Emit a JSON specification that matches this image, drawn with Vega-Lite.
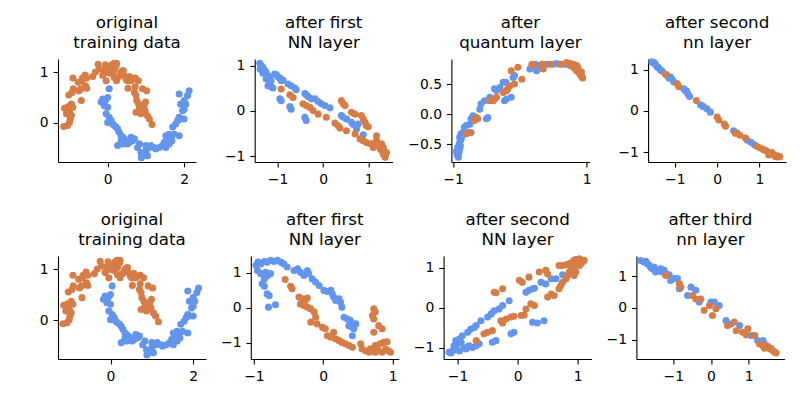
{
"$schema": "https://vega.github.io/schema/vega-lite/v6.json",
"padding": {"left": 39, "top": 14, "right": 0, "bottom": 0},
"config": {
 "view": {"stroke": null},
 "axis": {"grid": false, "domainColor": "black", "tickColor": "black", "labelColor": "black", "labelFont": "DejaVu Sans", "labelFontSize": 13.9, "tickSize": 4.9, "domainWidth": 1.1, "tickWidth": 1.1, "title": null, "labelFlush": false, "labelOverlap": false, "labelBound": false},
 "axisX": {"labelPadding": 5.5},
 "axisY": {"labelPadding": 4.9},
 "title": {"font": "DejaVu Sans", "fontSize": 16.7, "fontWeight": "normal", "color": "black", "lineHeight": 20, "baseline": "alphabetic", "offset": 7, "frame": "group", "anchor": "middle"},
 "circle": {"size": 50, "opacity": 1}
},
"datasets": {
 "orig": [
  {"x":0.04,"y":0.67,"c":"b"},{"x":0.0,"y":0.5,"c":"b"},{"x":-0.13,"y":0.47,"c":"b"},{"x":-0.06,"y":0.44,"c":"b"},{"x":-0.17,"y":0.41,"c":"b"},{"x":-0.09,"y":0.34,"c":"b"},{"x":0.0,"y":0.31,"c":"b"},{"x":-0.04,"y":0.18,"c":"b"},{"x":0.04,"y":0.11,"c":"b"},{"x":0.0,"y":0.01,"c":"b"},{"x":0.09,"y":0.05,"c":"b"},{"x":0.13,"y":-0.02,"c":"b"},{"x":0.17,"y":-0.05,"c":"b"},{"x":0.22,"y":-0.08,"c":"b"},{"x":0.26,"y":-0.12,"c":"b"},{"x":0.3,"y":-0.18,"c":"b"},{"x":0.35,"y":-0.25,"c":"b"},{"x":0.39,"y":-0.28,"c":"b"},{"x":0.43,"y":-0.31,"c":"b"},{"x":0.48,"y":-0.35,"c":"b"},{"x":0.35,"y":-0.35,"c":"b"},{"x":0.26,"y":-0.44,"c":"b"},{"x":0.39,"y":-0.41,"c":"b"},{"x":0.52,"y":-0.41,"c":"b"},{"x":0.57,"y":-0.38,"c":"b"},{"x":0.61,"y":-0.28,"c":"b"},{"x":0.65,"y":-0.35,"c":"b"},{"x":0.7,"y":-0.31,"c":"b"},{"x":0.78,"y":-0.48,"c":"b"},{"x":0.83,"y":-0.41,"c":"b"},{"x":0.87,"y":-0.58,"c":"b"},{"x":0.91,"y":-0.64,"c":"b"},{"x":1.0,"y":-0.54,"c":"b"},{"x":1.04,"y":-0.64,"c":"b"},{"x":1.0,"y":-0.44,"c":"b"},{"x":1.09,"y":-0.48,"c":"b"},{"x":1.13,"y":-0.44,"c":"b"},{"x":1.22,"y":-0.48,"c":"b"},{"x":1.26,"y":-0.51,"c":"b"},{"x":1.35,"y":-0.48,"c":"b"},{"x":1.43,"y":-0.44,"c":"b"},{"x":1.48,"y":-0.38,"c":"b"},{"x":1.52,"y":-0.25,"c":"b"},{"x":1.57,"y":-0.28,"c":"b"},{"x":1.61,"y":-0.22,"c":"b"},{"x":1.65,"y":-0.31,"c":"b"},{"x":1.7,"y":-0.08,"c":"b"},{"x":1.74,"y":-0.22,"c":"b"},{"x":1.78,"y":-0.02,"c":"b"},{"x":1.83,"y":0.05,"c":"b"},{"x":1.87,"y":0.11,"c":"b"},{"x":1.91,"y":0.08,"c":"b"},{"x":1.87,"y":-0.25,"c":"b"},{"x":1.96,"y":0.24,"c":"b"},{"x":2.0,"y":0.44,"c":"b"},{"x":2.04,"y":0.37,"c":"b"},{"x":2.0,"y":0.27,"c":"b"},{"x":2.09,"y":0.54,"c":"b"},{"x":2.13,"y":0.63,"c":"b"},{"x":1.91,"y":0.37,"c":"b"},{"x":1.87,"y":0.57,"c":"b"},{"x":2.0,"y":0.08,"c":"b"},{"x":1.68,"y":-0.35,"c":"b"},{"x":1.52,"y":-0.48,"c":"b"},{"x":1.61,"y":-0.41,"c":"b"},{"x":0.88,"y":-0.68,"c":"b"},
  {"x":-1.15,"y":-0.07,"c":"o"},{"x":-1.05,"y":-0.05,"c":"o"},{"x":-1.0,"y":0.01,"c":"o"},{"x":-0.98,"y":0.08,"c":"o"},{"x":-1.08,"y":0.18,"c":"o"},{"x":-1.13,"y":0.29,"c":"o"},{"x":-1.04,"y":0.32,"c":"o"},{"x":-0.95,"y":0.37,"c":"o"},{"x":-0.91,"y":0.31,"c":"o"},{"x":-1.0,"y":0.24,"c":"o"},{"x":-1.02,"y":0.18,"c":"o"},{"x":-0.95,"y":0.15,"c":"o"},{"x":-1.02,"y":0.55,"c":"o"},{"x":-0.93,"y":0.6,"c":"o"},{"x":-0.9,"y":0.67,"c":"o"},{"x":-0.75,"y":0.63,"c":"o"},{"x":-0.7,"y":0.67,"c":"o"},{"x":-0.77,"y":0.8,"c":"o"},{"x":-0.68,"y":0.83,"c":"o"},{"x":-0.66,"y":0.88,"c":"o"},{"x":-0.59,"y":0.94,"c":"o"},{"x":-0.55,"y":0.88,"c":"o"},{"x":-0.58,"y":0.73,"c":"o"},{"x":-0.55,"y":0.68,"c":"o"},{"x":-0.69,"y":0.44,"c":"o"},{"x":-0.91,"y":0.88,"c":"o"},{"x":-0.39,"y":0.91,"c":"o"},{"x":-0.32,"y":1.0,"c":"o"},{"x":-0.25,"y":1.15,"c":"o"},{"x":-0.22,"y":1.06,"c":"o"},{"x":-0.11,"y":1.03,"c":"o"},{"x":-0.06,"y":1.14,"c":"o"},{"x":-0.03,"y":0.99,"c":"o"},{"x":0.0,"y":1.06,"c":"o"},{"x":0.04,"y":1.09,"c":"o"},{"x":0.11,"y":1.14,"c":"o"},{"x":0.16,"y":1.17,"c":"o"},{"x":0.22,"y":1.12,"c":"o"},{"x":0.23,"y":1.17,"c":"o"},{"x":0.17,"y":1.03,"c":"o"},{"x":0.09,"y":0.97,"c":"o"},{"x":-0.04,"y":0.83,"c":"o"},{"x":-0.13,"y":0.93,"c":"o"},{"x":0.17,"y":0.89,"c":"o"},{"x":0.23,"y":0.83,"c":"o"},{"x":0.29,"y":0.91,"c":"o"},{"x":0.35,"y":1.0,"c":"o"},{"x":0.41,"y":1.03,"c":"o"},{"x":0.43,"y":0.93,"c":"o"},{"x":0.48,"y":0.86,"c":"o"},{"x":0.52,"y":0.83,"c":"o"},{"x":0.57,"y":0.91,"c":"o"},{"x":0.61,"y":0.83,"c":"o"},{"x":0.65,"y":0.86,"c":"o"},{"x":0.53,"y":0.68,"c":"o"},{"x":0.72,"y":0.88,"c":"o"},{"x":0.8,"y":0.83,"c":"o"},{"x":0.72,"y":0.71,"c":"o"},{"x":0.7,"y":0.6,"c":"o"},{"x":0.74,"y":0.54,"c":"o"},{"x":0.76,"y":0.44,"c":"o"},{"x":0.81,"y":0.37,"c":"o"},{"x":0.83,"y":0.27,"c":"o"},{"x":0.87,"y":0.24,"c":"o"},{"x":0.91,"y":0.31,"c":"o"},{"x":0.95,"y":0.34,"c":"o"},{"x":0.99,"y":0.41,"c":"o"},{"x":0.91,"y":0.67,"c":"o"},{"x":1.02,"y":0.63,"c":"o"},{"x":0.74,"y":0.21,"c":"o"},{"x":1.04,"y":0.14,"c":"o"},{"x":1.09,"y":0.08,"c":"o"},{"x":1.16,"y":-0.03,"c":"o"},{"x":0.87,"y":0.18,"c":"o"},{"x":0.98,"y":0.24,"c":"o"}
 ],
 "a1": [
  {"x":-1.39,"y":1.06,"c":"b"},{"x":-1.36,"y":1.01,"c":"b"},{"x":-1.32,"y":0.97,"c":"b"},{"x":-1.38,"y":0.93,"c":"b"},{"x":-1.28,"y":0.9,"c":"b"},{"x":-1.25,"y":0.86,"c":"b"},{"x":-1.32,"y":0.84,"c":"b"},{"x":-1.21,"y":0.79,"c":"b"},{"x":-1.17,"y":0.75,"c":"b"},{"x":-1.25,"y":0.71,"c":"b"},{"x":-1.14,"y":0.67,"c":"b"},{"x":-1.17,"y":0.6,"c":"b"},{"x":-1.21,"y":0.56,"c":"b"},{"x":-1.14,"y":0.54,"c":"b"},{"x":-1.1,"y":0.51,"c":"b"},{"x":-1.06,"y":0.82,"c":"b"},{"x":-1.03,"y":0.81,"c":"b"},{"x":-0.99,"y":0.76,"c":"b"},{"x":-0.95,"y":0.73,"c":"b"},{"x":-0.92,"y":0.67,"c":"b"},{"x":-0.88,"y":0.69,"c":"b"},{"x":-0.95,"y":0.27,"c":"b"},{"x":-0.92,"y":0.23,"c":"b"},{"x":-0.77,"y":0.6,"c":"b"},{"x":-0.7,"y":0.56,"c":"b"},{"x":-0.62,"y":0.51,"c":"b"},{"x":-0.59,"y":0.47,"c":"b"},{"x":-0.73,"y":0.1,"c":"b"},{"x":-0.7,"y":0.04,"c":"b"},{"x":-0.4,"y":0.39,"c":"b"},{"x":-0.37,"y":0.36,"c":"b"},{"x":-0.33,"y":0.32,"c":"b"},{"x":-0.26,"y":0.27,"c":"b"},{"x":-0.18,"y":0.27,"c":"b"},{"x":-0.11,"y":0.21,"c":"b"},{"x":-0.04,"y":0.16,"c":"b"},{"x":0.04,"y":0.12,"c":"b"},{"x":0.15,"y":0.07,"c":"b"},{"x":-0.4,"y":-0.14,"c":"b"},{"x":-0.37,"y":-0.21,"c":"b"},{"x":0.4,"y":-0.1,"c":"b"},{"x":0.44,"y":-0.14,"c":"b"},{"x":0.51,"y":-0.18,"c":"b"},{"x":0.62,"y":-0.25,"c":"b"},{"x":0.66,"y":-0.3,"c":"b"},{"x":0.73,"y":-0.4,"c":"b"},{"x":0.88,"y":-0.53,"c":"b"},{"x":0.77,"y":-0.29,"c":"b"},
  {"x":-0.92,"y":0.49,"c":"o"},{"x":-0.73,"y":0.36,"c":"o"},{"x":-0.66,"y":0.3,"c":"o"},{"x":-0.44,"y":0.16,"c":"o"},{"x":-0.37,"y":0.12,"c":"o"},{"x":-0.29,"y":0.08,"c":"o"},{"x":-0.22,"y":0.01,"c":"o"},{"x":-0.11,"y":-0.07,"c":"o"},{"x":0.07,"y":-0.14,"c":"o"},{"x":0.4,"y":0.23,"c":"o"},{"x":0.44,"y":0.16,"c":"o"},{"x":0.48,"y":0.12,"c":"o"},{"x":0.26,"y":-0.27,"c":"o"},{"x":0.33,"y":-0.33,"c":"o"},{"x":0.37,"y":-0.38,"c":"o"},{"x":0.51,"y":-0.44,"c":"o"},{"x":0.62,"y":-0.03,"c":"o"},{"x":0.7,"y":-0.07,"c":"o"},{"x":0.84,"y":-0.1,"c":"o"},{"x":0.88,"y":-0.18,"c":"o"},{"x":0.95,"y":-0.33,"c":"o"},{"x":0.99,"y":-0.35,"c":"o"},{"x":0.7,"y":-0.51,"c":"o"},{"x":0.81,"y":-0.62,"c":"o"},{"x":0.88,"y":-0.66,"c":"o"},{"x":0.95,"y":-0.7,"c":"o"},{"x":1.03,"y":-0.73,"c":"o"},{"x":1.1,"y":-0.73,"c":"o"},{"x":1.17,"y":-0.55,"c":"o"},{"x":1.17,"y":-0.66,"c":"o"},{"x":1.21,"y":-0.77,"c":"o"},{"x":1.25,"y":-0.84,"c":"o"},{"x":1.28,"y":-0.88,"c":"o"},{"x":1.32,"y":-0.96,"c":"o"},{"x":1.36,"y":-0.99,"c":"o"},{"x":1.28,"y":-0.73,"c":"o"},{"x":1.32,"y":-0.81,"c":"o"},{"x":1.39,"y":-0.92,"c":"o"},{"x":1.36,"y":-1.03,"c":"o"},{"x":1.1,"y":-0.81,"c":"o"},{"x":0.92,"y":-0.25,"c":"o"}
 ],
 "q": [
  {"x":-0.93,"y":-0.69,"c":"b"},{"x":-0.91,"y":-0.64,"c":"b"},{"x":-0.94,"y":-0.67,"c":"b"},{"x":-0.9,"y":-0.58,"c":"b"},{"x":-0.93,"y":-0.56,"c":"b"},{"x":-0.91,"y":-0.5,"c":"b"},{"x":-0.89,"y":-0.44,"c":"b"},{"x":-0.9,"y":-0.39,"c":"b"},{"x":-0.88,"y":-0.33,"c":"b"},{"x":-0.85,"y":-0.31,"c":"b"},{"x":-0.88,"y":-0.42,"c":"b"},{"x":-0.89,"y":-0.53,"c":"b"},{"x":-0.86,"y":-0.36,"c":"b"},{"x":-0.83,"y":-0.22,"c":"b"},{"x":-0.8,"y":-0.19,"c":"b"},{"x":-0.75,"y":-0.17,"c":"b"},{"x":-0.73,"y":-0.31,"c":"b"},{"x":-0.73,"y":-0.08,"c":"b"},{"x":-0.7,"y":-0.03,"c":"b"},{"x":-0.6,"y":0.08,"c":"b"},{"x":-0.58,"y":0.17,"c":"b"},{"x":-0.53,"y":0.22,"c":"b"},{"x":-0.5,"y":-0.08,"c":"b"},{"x":-0.48,"y":-0.06,"c":"b"},{"x":-0.45,"y":0.28,"c":"b"},{"x":-0.38,"y":0.42,"c":"b"},{"x":-0.35,"y":0.39,"c":"b"},{"x":-0.3,"y":0.44,"c":"b"},{"x":-0.25,"y":0.53,"c":"b"},{"x":-0.21,"y":0.53,"c":"b"},{"x":-0.23,"y":0.22,"c":"b"},{"x":-0.2,"y":0.25,"c":"b"},{"x":-0.13,"y":0.28,"c":"b"},{"x":-0.1,"y":0.61,"c":"b"},{"x":-0.08,"y":0.64,"c":"b"},{"x":0.15,"y":0.75,"c":"b"},{"x":0.23,"y":0.83,"c":"b"},{"x":0.25,"y":0.72,"c":"b"},{"x":0.3,"y":0.81,"c":"b"},{"x":0.4,"y":0.83,"c":"b"},{"x":0.5,"y":0.83,"c":"b"},{"x":0.55,"y":0.84,"c":"b"},{"x":0.65,"y":0.83,"c":"b"},{"x":0.7,"y":0.83,"c":"b"},{"x":-0.92,"y":-0.72,"c":"b"},{"x":-0.95,"y":-0.62,"c":"b"},
  {"x":-0.8,"y":-0.33,"c":"o"},{"x":-0.75,"y":-0.31,"c":"o"},{"x":-0.68,"y":-0.11,"c":"o"},{"x":-0.65,"y":-0.06,"c":"o"},{"x":-0.63,"y":-0.08,"c":"o"},{"x":-0.45,"y":0.22,"c":"o"},{"x":-0.4,"y":0.22,"c":"o"},{"x":-0.38,"y":0.25,"c":"o"},{"x":-0.35,"y":0.28,"c":"o"},{"x":-0.25,"y":0.36,"c":"o"},{"x":-0.2,"y":0.39,"c":"o"},{"x":-0.18,"y":0.42,"c":"o"},{"x":-0.15,"y":0.47,"c":"o"},{"x":-0.08,"y":0.5,"c":"o"},{"x":-0.13,"y":0.72,"c":"o"},{"x":-0.03,"y":0.78,"c":"o"},{"x":0.03,"y":0.58,"c":"o"},{"x":0.18,"y":0.83,"c":"o"},{"x":0.2,"y":0.81,"c":"o"},{"x":0.33,"y":0.83,"c":"o"},{"x":0.35,"y":0.75,"c":"o"},{"x":0.45,"y":0.83,"c":"o"},{"x":0.6,"y":0.83,"c":"o"},{"x":0.7,"y":0.86,"c":"o"},{"x":0.75,"y":0.81,"c":"o"},{"x":0.78,"y":0.83,"c":"o"},{"x":0.8,"y":0.78,"c":"o"},{"x":0.83,"y":0.75,"c":"o"},{"x":0.85,"y":0.72,"c":"o"},{"x":0.88,"y":0.69,"c":"o"},{"x":0.9,"y":0.67,"c":"o"},{"x":0.93,"y":0.62,"c":"o"},{"x":0.94,"y":0.6,"c":"o"},{"x":0.91,"y":0.64,"c":"o"},{"x":0.85,"y":0.81,"c":"o"},{"x":0.8,"y":0.83,"c":"o"},{"x":0.75,"y":0.84,"c":"o"},{"x":0.87,"y":0.77,"c":"o"},{"x":0.92,"y":0.7,"c":"o"}
 ],
 "a2": [
  {"x":-1.54,"y":1.19,"c":"b"},{"x":-1.5,"y":1.16,"c":"b"},{"x":-1.46,"y":1.13,"c":"b"},{"x":-1.42,"y":1.08,"c":"b"},{"x":-1.38,"y":1.04,"c":"b"},{"x":-1.34,"y":1.0,"c":"b"},{"x":-1.3,"y":0.97,"c":"b"},{"x":-1.18,"y":0.86,"c":"b"},{"x":-1.14,"y":0.8,"c":"b"},{"x":-1.06,"y":0.76,"c":"b"},{"x":-1.02,"y":0.7,"c":"b"},{"x":-1.1,"y":0.82,"c":"b"},{"x":-1.48,"y":1.17,"c":"b"},{"x":-1.4,"y":1.06,"c":"b"},{"x":-0.79,"y":0.54,"c":"b"},{"x":-0.72,"y":0.48,"c":"b"},{"x":-0.69,"y":0.41,"c":"b"},{"x":-0.65,"y":0.35,"c":"b"},{"x":-0.76,"y":0.5,"c":"b"},{"x":-0.39,"y":0.15,"c":"b"},{"x":-0.33,"y":0.11,"c":"b"},{"x":-0.24,"y":0.05,"c":"b"},{"x":-0.16,"y":-0.03,"c":"b"},{"x":0.39,"y":-0.48,"c":"b"},{"x":0.47,"y":-0.54,"c":"b"},{"x":0.71,"y":-0.71,"c":"b"},{"x":0.8,"y":-0.76,"c":"b"},{"x":0.88,"y":-0.82,"c":"b"},
  {"x":-1.22,"y":0.89,"c":"o"},{"x":-0.91,"y":0.59,"c":"o"},{"x":-0.94,"y":0.66,"c":"o"},{"x":-0.49,"y":0.25,"c":"o"},{"x":0.0,"y":-0.15,"c":"o"},{"x":0.04,"y":-0.22,"c":"o"},{"x":0.17,"y":-0.32,"c":"o"},{"x":0.2,"y":-0.37,"c":"o"},{"x":0.43,"y":-0.54,"c":"o"},{"x":0.54,"y":-0.59,"c":"o"},{"x":0.67,"y":-0.66,"c":"o"},{"x":0.94,"y":-0.86,"c":"o"},{"x":1.02,"y":-0.9,"c":"o"},{"x":1.1,"y":-0.94,"c":"o"},{"x":1.18,"y":-0.98,"c":"o"},{"x":1.26,"y":-1.03,"c":"o"},{"x":1.34,"y":-1.07,"c":"o"},{"x":1.42,"y":-1.09,"c":"o"},{"x":1.48,"y":-1.11,"c":"o"},{"x":1.3,"y":-1.01,"c":"o"},{"x":1.38,"y":-1.11,"c":"o"},{"x":1.22,"y":-1.07,"c":"o"},{"x":1.14,"y":-0.96,"c":"o"},{"x":1.44,"y":-1.12,"c":"o"}
 ],
 "b1": [
  {"x":-0.97,"y":1.22,"c":"b"},{"x":-0.94,"y":1.31,"c":"b"},{"x":-0.9,"y":1.26,"c":"b"},{"x":-0.85,"y":1.33,"c":"b"},{"x":-0.81,"y":1.31,"c":"b"},{"x":-0.76,"y":1.36,"c":"b"},{"x":-0.71,"y":1.33,"c":"b"},{"x":-0.66,"y":1.36,"c":"b"},{"x":-0.61,"y":1.31,"c":"b"},{"x":-0.57,"y":1.26,"c":"b"},{"x":-0.52,"y":1.17,"c":"b"},{"x":-0.95,"y":1.07,"c":"b"},{"x":-0.9,"y":0.98,"c":"b"},{"x":-0.83,"y":1.02,"c":"b"},{"x":-0.81,"y":0.91,"c":"b"},{"x":-0.76,"y":0.98,"c":"b"},{"x":-0.85,"y":0.83,"c":"b"},{"x":-0.88,"y":0.69,"c":"b"},{"x":-0.85,"y":0.62,"c":"b"},{"x":-0.81,"y":0.4,"c":"b"},{"x":-0.78,"y":0.35,"c":"b"},{"x":-0.79,"y":0.02,"c":"b"},{"x":-0.69,"y":0.09,"c":"b"},{"x":-0.42,"y":1.07,"c":"b"},{"x":-0.37,"y":1.12,"c":"b"},{"x":-0.33,"y":1.02,"c":"b"},{"x":-0.28,"y":0.93,"c":"b"},{"x":-0.23,"y":1.07,"c":"b"},{"x":-0.21,"y":0.98,"c":"b"},{"x":-0.16,"y":0.83,"c":"b"},{"x":-0.11,"y":0.74,"c":"b"},{"x":-0.06,"y":0.64,"c":"b"},{"x":0.01,"y":0.5,"c":"b"},{"x":0.06,"y":0.47,"c":"b"},{"x":0.11,"y":0.5,"c":"b"},{"x":0.13,"y":0.4,"c":"b"},{"x":0.15,"y":0.31,"c":"b"},{"x":0.18,"y":0.21,"c":"b"},{"x":0.23,"y":0.26,"c":"b"},{"x":0.25,"y":0.16,"c":"b"},{"x":0.27,"y":0.02,"c":"b"},{"x":0.3,"y":-0.27,"c":"b"},{"x":0.35,"y":-0.32,"c":"b"},{"x":0.39,"y":-0.36,"c":"b"},{"x":0.37,"y":-0.51,"c":"b"},{"x":0.42,"y":-0.56,"c":"b"},{"x":0.44,"y":-0.6,"c":"b"},{"x":0.47,"y":-0.46,"c":"b"},{"x":0.42,"y":-0.8,"c":"b"},
  {"x":-0.55,"y":0.81,"c":"o"},{"x":-0.47,"y":0.62,"c":"o"},{"x":-0.45,"y":0.55,"c":"o"},{"x":-0.35,"y":0.31,"c":"o"},{"x":-0.3,"y":0.26,"c":"o"},{"x":-0.26,"y":0.21,"c":"o"},{"x":-0.23,"y":0.28,"c":"o"},{"x":-0.33,"y":0.11,"c":"o"},{"x":-0.28,"y":0.07,"c":"o"},{"x":-0.23,"y":0.02,"c":"o"},{"x":-0.18,"y":-0.03,"c":"o"},{"x":-0.13,"y":-0.12,"c":"o"},{"x":-0.11,"y":-0.27,"c":"o"},{"x":-0.18,"y":-0.41,"c":"o"},{"x":-0.09,"y":-0.46,"c":"o"},{"x":-0.01,"y":-0.56,"c":"o"},{"x":0.03,"y":-0.6,"c":"o"},{"x":0.06,"y":-0.8,"c":"o"},{"x":0.11,"y":-0.84,"c":"o"},{"x":0.15,"y":-0.7,"c":"o"},{"x":0.18,"y":-0.89,"c":"o"},{"x":0.23,"y":-0.94,"c":"o"},{"x":0.27,"y":-0.99,"c":"o"},{"x":0.32,"y":-1.03,"c":"o"},{"x":0.37,"y":-1.08,"c":"o"},{"x":0.42,"y":-1.13,"c":"o"},{"x":0.54,"y":-1.03,"c":"o"},{"x":0.56,"y":-1.18,"c":"o"},{"x":0.61,"y":-1.23,"c":"o"},{"x":0.66,"y":-1.27,"c":"o"},{"x":0.71,"y":-1.23,"c":"o"},{"x":0.75,"y":-1.27,"c":"o"},{"x":0.8,"y":-1.23,"c":"o"},{"x":0.85,"y":-1.27,"c":"o"},{"x":0.9,"y":-1.18,"c":"o"},{"x":0.94,"y":-1.23,"c":"o"},{"x":0.97,"y":-1.27,"c":"o"},{"x":0.75,"y":-1.08,"c":"o"},{"x":0.82,"y":-1.03,"c":"o"},{"x":0.87,"y":-0.99,"c":"o"},{"x":0.92,"y":-0.97,"c":"o"},{"x":0.73,"y":-0.03,"c":"o"},{"x":0.75,"y":-0.12,"c":"o"},{"x":0.73,"y":-0.32,"c":"o"},{"x":0.8,"y":-0.51,"c":"o"},{"x":0.85,"y":-0.6,"c":"o"},{"x":0.73,"y":-0.7,"c":"o"},{"x":0.71,"y":-0.22,"c":"o"},{"x":0.78,"y":-1.2,"c":"o"},{"x":0.68,"y":-1.17,"c":"o"}
 ],
 "b2": [
  {"x":-1.14,"y":-1.11,"c":"b"},{"x":-1.08,"y":-1.07,"c":"b"},{"x":-1.03,"y":-1.03,"c":"b"},{"x":-1.06,"y":-0.95,"c":"b"},{"x":-1.0,"y":-0.9,"c":"b"},{"x":-0.94,"y":-0.86,"c":"b"},{"x":-0.97,"y":-0.78,"c":"b"},{"x":-1.03,"y":-0.82,"c":"b"},{"x":-0.89,"y":-0.99,"c":"b"},{"x":-0.86,"y":-1.03,"c":"b"},{"x":-0.81,"y":-0.95,"c":"b"},{"x":-0.75,"y":-0.99,"c":"b"},{"x":-0.69,"y":-0.95,"c":"b"},{"x":-0.64,"y":-0.9,"c":"b"},{"x":-0.92,"y":-0.7,"c":"b"},{"x":-0.83,"y":-0.61,"c":"b"},{"x":-0.78,"y":-0.53,"c":"b"},{"x":-0.72,"y":-0.49,"c":"b"},{"x":-0.69,"y":-0.44,"c":"b"},{"x":-0.61,"y":-0.32,"c":"b"},{"x":-0.5,"y":-0.23,"c":"b"},{"x":-0.44,"y":-0.15,"c":"b"},{"x":-0.39,"y":-0.07,"c":"b"},{"x":-0.31,"y":-0.03,"c":"b"},{"x":-0.25,"y":0.06,"c":"b"},{"x":-0.14,"y":0.18,"c":"b"},{"x":0.14,"y":0.39,"c":"b"},{"x":0.19,"y":0.44,"c":"b"},{"x":0.25,"y":0.48,"c":"b"},{"x":0.28,"y":0.49,"c":"b"},{"x":0.39,"y":0.64,"c":"b"},{"x":0.47,"y":0.6,"c":"b"},{"x":0.56,"y":0.73,"c":"b"},{"x":0.64,"y":0.73,"c":"b"},{"x":0.75,"y":0.83,"c":"b"},{"x":-0.42,"y":-0.86,"c":"b"},{"x":-0.36,"y":-0.82,"c":"b"},{"x":-0.11,"y":-0.65,"c":"b"},{"x":-0.06,"y":-0.61,"c":"b"},{"x":0.25,"y":-0.36,"c":"b"},{"x":0.33,"y":-0.38,"c":"b"},{"x":0.44,"y":-0.32,"c":"b"},{"x":-1.11,"y":-1.13,"c":"b"},{"x":-0.97,"y":-1.08,"c":"b"},
  {"x":-0.69,"y":-0.82,"c":"o"},{"x":-0.56,"y":-0.65,"c":"o"},{"x":-0.5,"y":-0.61,"c":"o"},{"x":-0.42,"y":-0.57,"c":"o"},{"x":-0.39,"y":0.39,"c":"o"},{"x":-0.36,"y":0.38,"c":"o"},{"x":-0.25,"y":0.48,"c":"o"},{"x":-0.28,"y":-0.32,"c":"o"},{"x":-0.25,"y":-0.38,"c":"o"},{"x":-0.19,"y":-0.28,"c":"o"},{"x":-0.11,"y":-0.23,"c":"o"},{"x":-0.06,"y":-0.21,"c":"o"},{"x":0.06,"y":-0.19,"c":"o"},{"x":0.11,"y":-0.18,"c":"o"},{"x":0.14,"y":-0.03,"c":"o"},{"x":0.22,"y":0.1,"c":"o"},{"x":0.28,"y":0.06,"c":"o"},{"x":0.03,"y":0.69,"c":"o"},{"x":0.08,"y":0.64,"c":"o"},{"x":0.19,"y":0.77,"c":"o"},{"x":0.36,"y":0.9,"c":"o"},{"x":0.47,"y":0.94,"c":"o"},{"x":0.5,"y":0.85,"c":"o"},{"x":0.5,"y":0.27,"c":"o"},{"x":0.56,"y":0.35,"c":"o"},{"x":0.61,"y":0.31,"c":"o"},{"x":0.69,"y":0.48,"c":"o"},{"x":0.72,"y":0.56,"c":"o"},{"x":0.75,"y":0.64,"c":"o"},{"x":0.81,"y":0.73,"c":"o"},{"x":0.83,"y":0.81,"c":"o"},{"x":0.86,"y":0.9,"c":"o"},{"x":0.89,"y":0.98,"c":"o"},{"x":0.69,"y":1.06,"c":"o"},{"x":0.75,"y":1.06,"c":"o"},{"x":0.81,"y":1.08,"c":"o"},{"x":0.86,"y":1.11,"c":"o"},{"x":0.92,"y":1.15,"c":"o"},{"x":0.94,"y":1.19,"c":"o"},{"x":0.97,"y":1.21,"c":"o"},{"x":1.03,"y":1.23,"c":"o"},{"x":1.06,"y":1.19,"c":"o"},{"x":1.08,"y":1.15,"c":"o"},{"x":1.0,"y":1.11,"c":"o"},{"x":0.94,"y":1.02,"c":"o"},{"x":0.92,"y":0.94,"c":"o"},{"x":0.97,"y":0.9,"c":"o"},{"x":0.94,"y":0.81,"c":"o"},{"x":1.03,"y":1.06,"c":"o"},{"x":1.11,"y":1.19,"c":"o"},{"x":1.0,"y":1.21,"c":"o"},{"x":1.05,"y":1.1,"c":"o"}
 ],
 "b3": [
  {"x":-1.87,"y":1.49,"c":"b"},{"x":-1.78,"y":1.44,"c":"b"},{"x":-1.69,"y":1.39,"c":"b"},{"x":-1.64,"y":1.34,"c":"b"},{"x":-1.6,"y":1.28,"c":"b"},{"x":-1.56,"y":1.23,"c":"b"},{"x":-1.47,"y":1.21,"c":"b"},{"x":-1.42,"y":1.18,"c":"b"},{"x":-1.38,"y":1.15,"c":"b"},{"x":-1.29,"y":1.13,"c":"b"},{"x":-1.2,"y":1.07,"c":"b"},{"x":-1.11,"y":1.04,"c":"b"},{"x":-1.51,"y":1.28,"c":"b"},{"x":-1.33,"y":1.23,"c":"b"},{"x":-1.73,"y":1.46,"c":"b"},{"x":-1.47,"y":1.13,"c":"b"},{"x":-1.24,"y":1.18,"c":"b"},{"x":-1.07,"y":0.86,"c":"b"},{"x":-0.98,"y":0.92,"c":"b"},{"x":-0.89,"y":0.92,"c":"b"},{"x":-0.84,"y":0.6,"c":"b"},{"x":-0.62,"y":0.39,"c":"b"},{"x":-0.53,"y":0.65,"c":"b"},{"x":-0.4,"y":0.55,"c":"b"},{"x":-0.31,"y":0.18,"c":"b"},{"x":0.0,"y":0.18,"c":"b"},{"x":0.09,"y":0.18,"c":"b"},{"x":0.22,"y":0.07,"c":"b"},{"x":0.4,"y":-0.4,"c":"b"},{"x":0.53,"y":-0.51,"c":"b"},{"x":0.76,"y":-0.56,"c":"b"},{"x":1.07,"y":-0.87,"c":"b"},{"x":1.24,"y":-1.03,"c":"b"},{"x":1.38,"y":-1.03,"c":"b"},{"x":1.42,"y":-1.14,"c":"b"},
  {"x":-1.2,"y":1.02,"c":"o"},{"x":-0.84,"y":0.76,"c":"o"},{"x":-0.8,"y":0.65,"c":"o"},{"x":-0.49,"y":0.39,"c":"o"},{"x":-0.4,"y":0.28,"c":"o"},{"x":-0.27,"y":0.28,"c":"o"},{"x":-0.18,"y":-0.08,"c":"o"},{"x":-0.04,"y":0.07,"c":"o"},{"x":0.04,"y":-0.24,"c":"o"},{"x":0.13,"y":-0.03,"c":"o"},{"x":0.44,"y":-0.56,"c":"o"},{"x":0.62,"y":-0.45,"c":"o"},{"x":0.67,"y":-0.72,"c":"o"},{"x":0.84,"y":-0.77,"c":"o"},{"x":0.98,"y":-0.66,"c":"o"},{"x":0.93,"y":-0.85,"c":"o"},{"x":1.16,"y":-0.87,"c":"o"},{"x":1.29,"y":-1.14,"c":"o"},{"x":1.38,"y":-1.19,"c":"o"},{"x":1.47,"y":-1.24,"c":"o"},{"x":1.56,"y":-1.29,"c":"o"},{"x":1.64,"y":-1.35,"c":"o"},{"x":1.73,"y":-1.42,"c":"o"},{"x":1.51,"y":-1.21,"c":"o"},{"x":1.6,"y":-1.28,"c":"o"},{"x":1.69,"y":-1.39,"c":"o"},{"x":1.42,"y":-1.27,"c":"o"}
 ]
},
"vconcat": [
 {"bounds": "flush", "spacing": 58.7, "hconcat": [
  {"data": {"name": "orig"}, "title": {"text": ["original", "training data"]}, "width": 138, "height": 103, "mark": "circle",
   "encoding": {"x": {"field": "x", "type": "quantitative", "scale": {"domain": [-1.30, 2.31], "nice": false, "zero": false}, "axis": {"values": [0, 2], "format": "d"}},
    "y": {"field": "y", "type": "quantitative", "scale": {"domain": [-0.765, 1.255], "nice": false, "zero": false}, "axis": {"values": [0, 1], "format": "d"}},
    "color": {"field": "c", "type": "nominal", "scale": {"domain": ["b", "o"], "range": ["#6495ED", "#D67D47"]}, "legend": null}}},
  {"data": {"name": "a1"}, "title": {"text": ["after first", "NN layer"]}, "width": 138, "height": 103, "mark": "circle",
   "encoding": {"x": {"field": "x", "type": "quantitative", "scale": {"domain": [-1.50, 1.525], "nice": false, "zero": false}, "axis": {"values": [-1, 0, 1], "format": "d"}},
    "y": {"field": "y", "type": "quantitative", "scale": {"domain": [-1.133, 1.155], "nice": false, "zero": false}, "axis": {"values": [-1, 0, 1], "format": "d"}},
    "color": {"field": "c", "type": "nominal", "scale": {"domain": ["b", "o"], "range": ["#6495ED", "#D67D47"]}, "legend": null}}},
  {"data": {"name": "q"}, "title": {"text": ["after", "quantum layer"]}, "width": 138, "height": 103, "mark": "circle",
   "encoding": {"x": {"field": "x", "type": "quantitative", "scale": {"domain": [-1.024, 1.04], "nice": false, "zero": false}, "axis": {"values": [-1, 0, 1], "format": "d"}},
    "y": {"field": "y", "type": "quantitative", "scale": {"domain": [-0.8, 0.917], "nice": false, "zero": false}, "axis": {"values": [-0.5, 0, 0.5], "format": ".1f"}},
    "color": {"field": "c", "type": "nominal", "scale": {"domain": ["b", "o"], "range": ["#6495ED", "#D67D47"]}, "legend": null}}},
  {"data": {"name": "a2"}, "title": {"text": ["after second", "nn layer"]}, "width": 138, "height": 103, "mark": "circle",
   "encoding": {"x": {"field": "x", "type": "quantitative", "scale": {"domain": [-1.63, 1.63], "nice": false, "zero": false}, "axis": {"values": [-1, 0, 1], "format": "d"}},
    "y": {"field": "y", "type": "quantitative", "scale": {"domain": [-1.24, 1.26], "nice": false, "zero": false}, "axis": {"values": [-1, 0, 1], "format": "d"}},
    "color": {"field": "c", "type": "nominal", "scale": {"domain": ["b", "o"], "range": ["#6495ED", "#D67D47"]}, "legend": null}}}
 ]},
 {"bounds": "flush", "spacing": 44.8, "hconcat": [
  {"data": {"name": "orig"}, "title": {"text": ["original", "training data"]}, "width": 148, "height": 103, "mark": "circle",
   "encoding": {"x": {"field": "x", "type": "quantitative", "scale": {"domain": [-1.27, 2.31], "nice": false, "zero": false}, "axis": {"values": [0, 2], "format": "d"}},
    "y": {"field": "y", "type": "quantitative", "scale": {"domain": [-0.76, 1.255], "nice": false, "zero": false}, "axis": {"values": [0, 1], "format": "d"}},
    "color": {"field": "c", "type": "nominal", "scale": {"domain": ["b", "o"], "range": ["#6495ED", "#D67D47"]}, "legend": null}}},
  {"data": {"name": "b1"}, "title": {"text": ["after first", "NN layer"]}, "width": 148, "height": 103, "mark": "circle",
   "encoding": {"x": {"field": "x", "type": "quantitative", "scale": {"domain": [-1.045, 1.09], "nice": false, "zero": false}, "axis": {"values": [-1, 0, 1], "format": "d"}},
    "y": {"field": "y", "type": "quantitative", "scale": {"domain": [-1.466, 1.486], "nice": false, "zero": false}, "axis": {"values": [-1, 0, 1], "format": "d"}},
    "color": {"field": "c", "type": "nominal", "scale": {"domain": ["b", "o"], "range": ["#6495ED", "#D67D47"]}, "legend": null}}},
  {"data": {"name": "b2"}, "title": {"text": ["after second", "NN layer"]}, "width": 148, "height": 103, "mark": "circle",
   "encoding": {"x": {"field": "x", "type": "quantitative", "scale": {"domain": [-1.233, 1.233], "nice": false, "zero": false}, "axis": {"values": [-1, 0, 1], "format": "d"}},
    "y": {"field": "y", "type": "quantitative", "scale": {"domain": [-1.28, 1.30], "nice": false, "zero": false}, "axis": {"values": [-1, 0, 1], "format": "d"}},
    "color": {"field": "c", "type": "nominal", "scale": {"domain": ["b", "o"], "range": ["#6495ED", "#D67D47"]}, "legend": null}}},
  {"data": {"name": "b3"}, "title": {"text": ["after third", "nn layer"]}, "width": 148, "height": 103, "mark": "circle",
   "encoding": {"x": {"field": "x", "type": "quantitative", "scale": {"domain": [-1.98, 1.95], "nice": false, "zero": false}, "axis": {"values": [-1, 0, 1], "format": "d"}},
    "y": {"field": "y", "type": "quantitative", "scale": {"domain": [-1.61, 1.63], "nice": false, "zero": false}, "axis": {"values": [-1, 0, 1], "format": "d"}},
    "color": {"field": "c", "type": "nominal", "scale": {"domain": ["b", "o"], "range": ["#6495ED", "#D67D47"]}, "legend": null}}}
 ]}
],
"spacing": 24
}
